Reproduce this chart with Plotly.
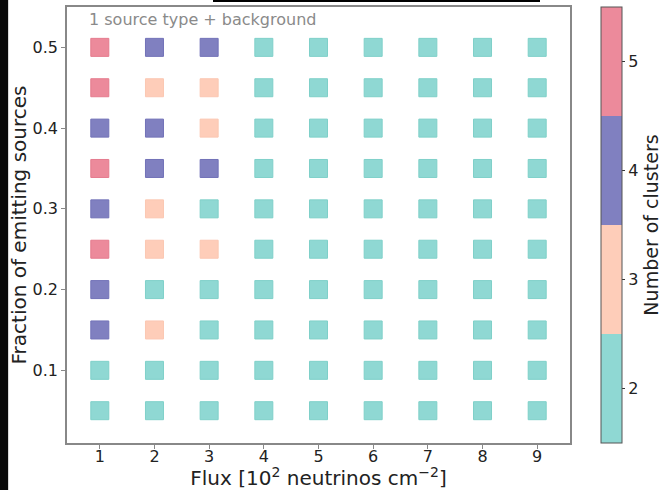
import plotly.graph_objects as go

flux = [1, 2, 3, 4, 5, 6, 7, 8, 9]
fractions = [0.5, 0.45, 0.4, 0.35, 0.3, 0.25, 0.2, 0.15, 0.1, 0.05]
# number of clusters, rows = fractions (top to bottom), cols = flux 1..9
clusters = [
    [5, 4, 4, 2, 2, 2, 2, 2, 2],
    [5, 3, 3, 2, 2, 2, 2, 2, 2],
    [4, 4, 3, 2, 2, 2, 2, 2, 2],
    [5, 4, 4, 2, 2, 2, 2, 2, 2],
    [4, 3, 2, 2, 2, 2, 2, 2, 2],
    [5, 3, 3, 2, 2, 2, 2, 2, 2],
    [4, 2, 2, 2, 2, 2, 2, 2, 2],
    [4, 3, 2, 2, 2, 2, 2, 2, 2],
    [2, 2, 2, 2, 2, 2, 2, 2, 2],
    [2, 2, 2, 2, 2, 2, 2, 2, 2],
]
cluster_ticks = [2, 3, 4, 5]
cluster_colors = ["#8fd8d3", "#fecdb9", "#8080c0", "#ec8a9b"]
edge_colors = {2: "#7fd0c9", 3: "#fbc7b2", 4: "#7272b8", 5: "#e57b8e"}

xs, ys, cs, es = [], [], [], []
for i, fr in enumerate(fractions):
    for j, fl in enumerate(flux):
        xs.append(fl)
        ys.append(fr)
        cs.append(clusters[i][j])
        es.append(edge_colors[clusters[i][j]])

# discrete colorscale over [1.5, 5.5]
n = len(cluster_colors)
colorscale = []
for k, c in enumerate(cluster_colors):
    colorscale.append([k / n, c])
    colorscale.append([(k + 1) / n, c])

font = "DejaVu Sans"
fig = go.Figure()
fig.add_trace(go.Scatter(
    x=xs, y=ys, mode="markers",
    marker=dict(
        symbol="square", size=18, color=cs, colorscale=colorscale,
        cmin=1.5, cmax=5.5,
        line=dict(color=es, width=1),
        colorbar=dict(
            x=1.0616, xanchor="left", xpad=0, y=0, yanchor="bottom", ypad=0,
            len=1, lenmode="fraction", thickness=21, thicknessmode="pixels",
            outlinecolor="#555555", outlinewidth=1,
            tickmode="array", tickvals=cluster_ticks, ticktext=[str(t) for t in cluster_ticks],
            ticks="outside", ticklen=3, tickcolor="#333333",
            tickfont=dict(family=font, size=16, color="#222222"),
            title=dict(text="Number of clusters", side="right",
                       font=dict(family=font, size=19, color="#222222")),
        ),
    ),
    showlegend=False, hoverinfo="skip",
))

fig.add_annotation(
    x=0.04, y=0.997, xref="paper", yref="paper", xanchor="left", yanchor="top",
    text="1 source type + background", showarrow=False,
    font=dict(family=font, size=16, color="#8a8a8a"),
)

# black strip at left edge and top line (part of the original image)
fig.add_shape(type="rect", xref="paper", yref="paper",
              x0=-0.134, x1=-0.117, y0=-0.2, y1=1.05,
              fillcolor="#0a0a0a", line=dict(width=0), layer="above")
fig.add_shape(type="rect", xref="paper", yref="paper",
              x0=(213 - 67) / 503, x1=(540 - 67) / 503,
              y0=1 + 5 / 436, y1=1 + 7 / 436,
              fillcolor="#000000", line=dict(width=0), layer="above")

fig.update_layout(
    width=659, height=490,
    margin=dict(l=67, r=89, t=7, b=47, autoexpand=False),
    paper_bgcolor="white", plot_bgcolor="white",
    font=dict(family=font, color="#222222"),
    xaxis=dict(
        range=[0.4, 9.6], tickvals=flux, ticktext=[str(f) for f in flux],
        showgrid=False, zeroline=False,
        showline=True, mirror=True, linecolor="#888888", linewidth=1.5,
        ticks="outside", ticklen=4, tickcolor="#888888",
        ticklabelstandoff=-6,
        tickfont=dict(family=font, size=16, color="#222222"),
        title=dict(text="Flux [10<sup>2</sup> neutrinos cm<sup>\u22122</sup>]",
                   font=dict(family=font, size=20, color="#222222"), standoff=8),
    ),
    yaxis=dict(
        range=[0.01, 0.55], tickvals=[0.1, 0.2, 0.3, 0.4, 0.5],
        ticktext=["0.1", "0.2", "0.3", "0.4", "0.5"],
        showgrid=False, zeroline=False,
        showline=True, mirror=True, linecolor="#888888", linewidth=1.5,
        ticks="outside", ticklen=4, tickcolor="#888888",
        tickfont=dict(family=font, size=16, color="#222222"),
        title=dict(text="Fraction of emitting sources",
                   font=dict(family=font, size=20, color="#222222"), standoff=1),
    ),
)

fig.write_html("out.html", config={"displayModeBar": False},
               post_script="document.body.style.margin='0px';")
